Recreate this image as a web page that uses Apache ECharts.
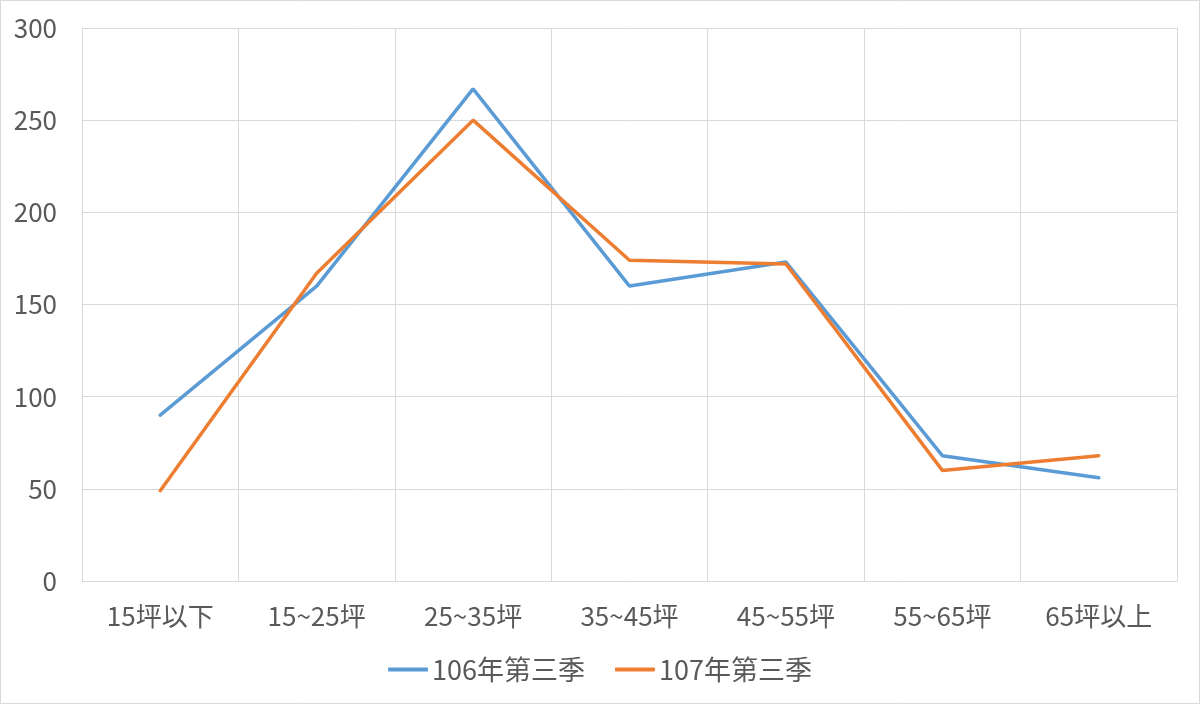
<!DOCTYPE html>
<html><head><meta charset="utf-8">
<script src="https://cdn.jsdelivr.net/npm/echarts@6/dist/echarts.min.js"></script>
<style>html,body{margin:0;padding:0;background:#fff}#c{width:1200px;height:704px}</style>
</head><body><div id="c"></div>
<script>
const categories = ['15坪以下','15~25坪','25~35坪','35~45坪','45~55坪','55~65坪','65坪以上'];
const seriesNames = ['106年第三季','107年第三季'];
const s106 = [90, 160, 267, 160, 173, 68, 56];
const s107 = [49, 167, 250, 174, 172, 60, 68];
const yTicks = {min: 0, max: 300, interval: 50};

const font = '"Noto Sans CJK TC", "Noto Sans", sans-serif';
const chart = echarts.init(document.getElementById('c'));
chart.setOption({
  animation: false,
  backgroundColor: '#fff',
  graphic: [{type:'rect', shape:{x:0.5,y:0.5,width:1199,height:703}, style:{fill:'none', stroke:'#d9d9d9', lineWidth:1}, silent:true}],
  grid: {left: 82, right: 23, top: 28, bottom: 123, containLabel: false},
  legend: {
    data: seriesNames, top: 651, left: 'center', itemWidth: 40, itemHeight: 4, itemGap: 30,
    icon: 'roundRect',
    textStyle: {fontFamily: font, fontSize: 27, color: '#595959', padding: [0, 0, 0, -1]}
  },
  xAxis: {
    type: 'category', data: categories, boundaryGap: true,
    axisLine: {show: true, lineStyle: {color: '#d9d9d9', width: 1}},
    axisTick: {show: false},
    splitLine: {show: true, interval: 0, lineStyle: {color: '#d9d9d9', width: 1}},
    axisLabel: {fontFamily: font, fontSize: 26, color: '#595959', margin: 22, interval: 0}
  },
  yAxis: {
    type: 'value', min: yTicks.min, max: yTicks.max, interval: yTicks.interval,
    axisLine: {show: false}, axisTick: {show: false},
    splitLine: {lineStyle: {color: '#d9d9d9', width: 1}},
    axisLabel: {fontFamily: font, fontSize: 26, color: '#595959', margin: 25}
  },
  series: [
    {name: seriesNames[0], type: 'line', data: s106, symbol: 'none', color: '#5b9bd5', lineStyle: {width: 3.5, color: '#5b9bd5', cap: 'round'}},
    {name: seriesNames[1], type: 'line', data: s107, symbol: 'none', color: '#ed7d31', lineStyle: {width: 3.5, color: '#ed7d31', cap: 'round'}}
  ]
});
</script></body></html>
